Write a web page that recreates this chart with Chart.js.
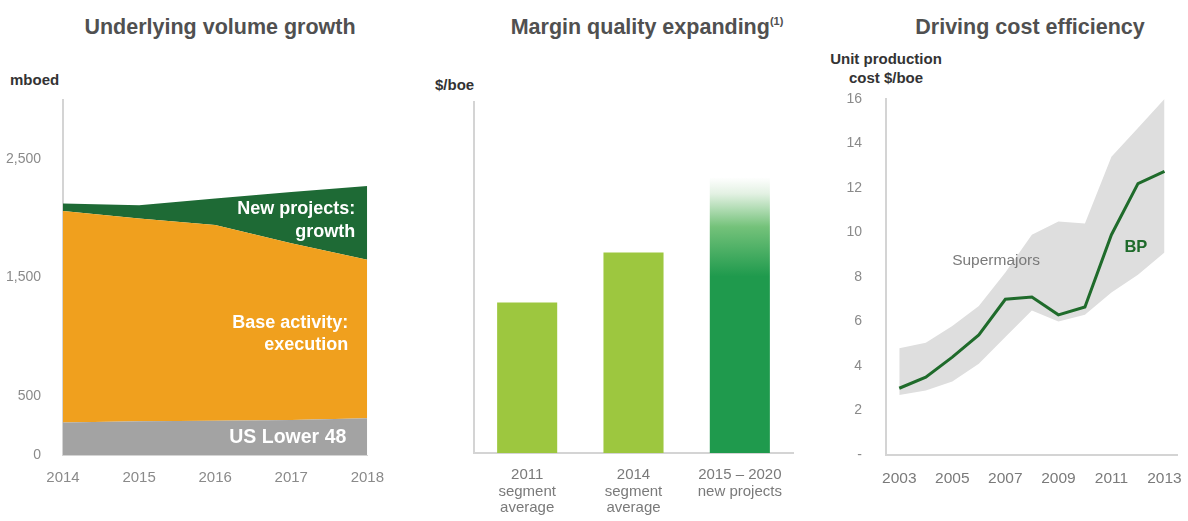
<!DOCTYPE html>
<html>
<head>
<meta charset="utf-8">
<script src="https://cdn.jsdelivr.net/npm/chart.js@4.4.0/dist/chart.umd.min.js"></script>
<style>
  body { margin: 0; background: #fff; font-family: "Liberation Sans", Arial, sans-serif; }
  #page { position: relative; width: 1188px; height: 521px; overflow: hidden; }
  .title { position: absolute; top: 15px; font-weight: bold; font-size: 21.5px; color: #505050;
           white-space: nowrap; transform: translateX(-50%); line-height: 24px; }
  .title sup { font-size: 11px; line-height: 0; vertical-align: 9px; }
  .unit { position: absolute; font-weight: bold; font-size: 15px; color: #333; line-height: 19px; white-space: nowrap; }
  .box { position: absolute; top: 0; height: 521px; }
</style>
</head>
<body>
<div id="page">
  <div class="title" style="left:220px">Underlying volume growth</div>
  <div class="title" style="left:647px">Margin quality expanding<sup>(1)</sup></div>
  <div class="title" style="left:1030px">Driving cost efficiency</div>

  <div class="unit" style="left:10px; top:70px">mboed</div>
  <div class="unit" style="left:435px; top:75px">$/boe</div>
  <div class="unit" style="left:886px; top:49px; transform:translateX(-50%); text-align:center">Unit production<br>cost $/boe</div>

  <div class="box" style="left:0; width:390px"><canvas id="volume"></canvas></div>
  <div class="box" style="left:400px; width:400px"><canvas id="margin"></canvas></div>
  <div class="box" style="left:800px; width:388px"><canvas id="cost"></canvas></div>
</div>

<script>
// volume, mboed
const volYears = ['2014', '2015', '2016', '2017', '2018'];
const usLower48 = [275, 285, 290, 295, 310];
const baseActivity = [1786, 1714, 1654, 1494, 1340];
const newProjects = [64, 112, 223, 434, 623];
const volTicks = [0, 500, 1500, 2500];

// margin, $/boe (no scale printed)
const marginCats = [['2011', 'segment', 'average'], ['2014', 'segment', 'average'], ['2015 \u2013 2020', 'new projects']];
const marginValues = [15, 20, 27.5];

// unit production cost, $/boe
const costYears = [2003, 2004, 2005, 2006, 2007, 2008, 2009, 2010, 2011, 2012, 2013];
const superLow = [2.7, 2.9, 3.3, 4.1, 5.3, 6.5, 6.0, 6.3, 7.3, 8.1, 9.1];
const superHigh = [4.8, 5.05, 5.8, 6.7, 8.2, 9.9, 10.5, 10.4, 13.4, 14.7, 16.0];
const bpCost = [3.0, 3.5, 4.4, 5.4, 7.0, 7.1, 6.3, 6.65, 9.9, 12.2, 12.75];
const costTickYears = [2003, 2005, 2007, 2009, 2011, 2013];

const FONT = '"Liberation Sans", Arial, sans-serif';
const axisGrey = '#d4d4d4';
const tickGrey = '#8a8a8a';

// draws text notes given in data units
const notesPlugin = {
  id: 'notes',
  afterDatasetsDraw(chart, args, opts) {
    const {ctx, scales} = chart;
    (opts.items || []).forEach(n => {
      ctx.save();
      ctx.font = n.font;
      ctx.fillStyle = n.color;
      ctx.textAlign = n.align || 'center';
      ctx.textBaseline = 'middle';
      const x = scales.x.getPixelForValue(n.x) + (n.dx || 0);
      const y = scales.y.getPixelForValue(n.y);
      n.lines.forEach((t, i) => ctx.fillText(t, x, y + i * (n.lh || 0)));
      ctx.restore();
    });
  }
};

// left: stacked areas
new Chart(document.getElementById('volume'), {
  type: 'line',
  data: {
    labels: volYears,
    datasets: [
      { label: 'US Lower 48', data: usLower48, backgroundColor: '#a3a3a3', fill: 'origin' },
      { label: 'Base activity', data: baseActivity, backgroundColor: '#f0a01e', fill: '-1' },
      { label: 'New projects', data: newProjects, backgroundColor: '#1e6a35', fill: '-1' }
    ]
  },
  options: {
    responsive: true, maintainAspectRatio: false, animation: false,
    elements: { line: { tension: 0, borderWidth: 0 }, point: { radius: 0 } },
    layout: { padding: { top: 100, right: 22, left: 0, bottom: 0 } },
    plugins: {
      legend: { display: false }, tooltip: { enabled: false },
      notes: { items: [
        { lines: ['New projects:', 'growth'], x: 4, dx: -12, y: 2080, lh: 23, align: 'right', font: 'bold 18px ' + FONT, color: '#fff' },
        { lines: ['Base activity:', 'execution'], x: 4, dx: -19, y: 1115, lh: 22, align: 'right', font: 'bold 18px ' + FONT, color: '#fff' },
        { lines: ['US Lower 48'], x: 4, dx: -21, y: 143, align: 'right', font: 'bold 19.5px ' + FONT, color: '#fff' }
      ] }
    },
    scales: {
      x: {
        grid: { display: false }, border: { color: axisGrey },
        ticks: { color: tickGrey, font: { family: FONT, size: 15 }, padding: 6, maxRotation: 0 },
        afterFit: s => { s.height = 66; }
      },
      y: {
        stacked: true, min: 0, max: 3000,
        grid: { display: false }, border: { color: axisGrey, width: 2 },
        afterBuildTicks: s => { s.ticks = volTicks.map(v => ({ value: v })); },
        ticks: { color: tickGrey, font: { family: FONT, size: 14 }, padding: 14,
                 callback: v => v.toLocaleString('en-US') },
        afterFit: s => { s.width = 63; }
      }
    }
  },
  plugins: [notesPlugin]
});

// middle: bars, the last one fading in at the top
new Chart(document.getElementById('margin'), {
  type: 'bar',
  data: {
    labels: marginCats,
    datasets: [{
      data: marginValues,
      backgroundColor: c => {
        if (c.dataIndex < 2) return '#9dc73f';
        const chart = c.chart;
        if (!chart.chartArea) return '#1f9a4d';
        const top = chart.scales.y.getPixelForValue(marginValues[2]);
        const bottom = chart.scales.y.getPixelForValue(0);
        const g = chart.ctx.createLinearGradient(0, top, 0, bottom);
        g.addColorStop(0, 'rgba(255,255,255,1)');
        g.addColorStop(0.06, '#e3f1e3');
        g.addColorStop(0.18, '#74c27a');
        g.addColorStop(0.36, '#1f9a4d');
        g.addColorStop(1, '#1f9a4d');
        return g;
      },
      categoryPercentage: 1,
      barPercentage: 0.565
    }]
  },
  options: {
    responsive: true, maintainAspectRatio: false, animation: false,
    layout: { padding: { top: 102, right: 7, left: 0, bottom: 0 } },
    plugins: { legend: { display: false }, tooltip: { enabled: false } },
    scales: {
      x: {
        grid: { display: false }, border: { color: axisGrey, width: 2 },
        ticks: { color: '#7a7a7a', font: { family: FONT, size: 15, lineHeight: 1.1 }, padding: 6, maxRotation: 0 },
        afterFit: s => { s.height = 68; }
      },
      y: {
        min: 0, max: 35,
        grid: { display: false }, border: { color: axisGrey, width: 2 },
        ticks: { display: false },
        afterFit: s => { s.width = 74; }
      }
    }
  }
});

// right: supermajors range with BP line
const toPts = arr => arr.map((v, i) => ({ x: costYears[i], y: v }));
new Chart(document.getElementById('cost'), {
  type: 'line',
  data: {
    datasets: [
      { label: 'BP', data: toPts(bpCost), borderColor: '#1f6b2b', borderWidth: 3, fill: false },
      { label: 'Supermajors low', data: toPts(superLow), borderWidth: 0, fill: false },
      { label: 'Supermajors high', data: toPts(superHigh), borderWidth: 0, backgroundColor: '#dedede', fill: '-1' }
    ]
  },
  options: {
    responsive: true, maintainAspectRatio: false, animation: false,
    elements: { line: { tension: 0 }, point: { radius: 0 } },
    layout: { padding: { top: 99, right: 6, left: 0, bottom: 0 } },
    plugins: {
      legend: { display: false }, tooltip: { enabled: false },
      notes: { items: [
        { lines: ['Supermajors'], x: 2006.65, y: 8.75, font: '15.5px ' + FONT, color: '#7a7a7a' },
        { lines: ['BP'], x: 2011.92, y: 9.35, font: 'bold 16.5px ' + FONT, color: '#1f6b2b' }
      ] }
    },
    scales: {
      x: {
        type: 'linear', min: 2002.5, max: 2013.5,
        grid: { display: false }, border: { color: axisGrey, width: 2 },
        afterBuildTicks: s => { s.ticks = costTickYears.map(v => ({ value: v })); },
        ticks: { color: '#7a7a7a', font: { family: FONT, size: 15.5 }, padding: 6, maxRotation: 0,
                 callback: v => String(v) },
        afterFit: s => { s.height = 66; }
      },
      y: {
        min: 0, max: 16,
        grid: { display: false }, border: { color: axisGrey, width: 2 },
        ticks: { stepSize: 2, color: tickGrey, font: { family: FONT, size: 14 }, padding: 16,
                 callback: v => v === 0 ? '-' : v },
        afterFit: s => { s.width = 86; }
      }
    }
  },
  plugins: [notesPlugin]
});
</script>
</body>
</html>
